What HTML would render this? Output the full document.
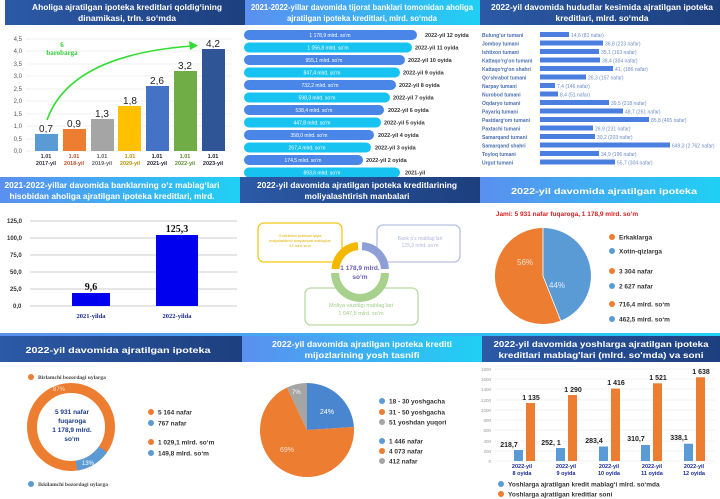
<!DOCTYPE html>
<html><head><meta charset="utf-8"><style>
body{margin:0;background:#fff;width:720px;height:499px;overflow:hidden}
svg{display:block}
text{font-family:"Liberation Sans",sans-serif}
.h{fill:#fff;font-weight:bold;font-size:8.6px;text-anchor:middle}
.s{font-family:"Liberation Serif",serif}
</style></head><body>
<svg width="720" height="499" viewBox="0 0 720 499" xmlns="http://www.w3.org/2000/svg">
<defs>
<linearGradient id="dk" x1="0" x2="1"><stop offset="0" stop-color="#2c5aa6"/><stop offset="1" stop-color="#1d3f7e"/></linearGradient>
<linearGradient id="lt" x1="0" x2="1"><stop offset="0" stop-color="#5b8ff0"/><stop offset="1" stop-color="#20d0f4"/></linearGradient>
</defs>
<!-- headers row1 -->
<rect x="5" y="0" width="240" height="25" fill="url(#dk)"/>
<rect x="245" y="0" width="235" height="25" fill="url(#lt)"/>
<rect x="480" y="0" width="240" height="25" fill="url(#dk)"/>
<text class="h" x="127" y="10" textLength="190" lengthAdjust="spacingAndGlyphs">Aholiga ajratilgan ipoteka kreditlari qoldig‘ining</text>
<text class="h" x="127" y="21" textLength="98" lengthAdjust="spacingAndGlyphs">dinamikasi, trln. so‘mda</text>
<text class="h" x="362" y="10" textLength="222" lengthAdjust="spacingAndGlyphs">2021-2022-yillar davomida tijorat banklari tomonidan aholiga</text>
<text class="h" x="362" y="21" textLength="150" lengthAdjust="spacingAndGlyphs">ajratilgan ipoteka kreditlari, mlrd. so‘mda</text>
<text class="h" x="602" y="10" textLength="222" lengthAdjust="spacingAndGlyphs">2022-yil davomida hududlar kesimida ajratilgan ipoteka</text>
<text class="h" x="602" y="21" textLength="93" lengthAdjust="spacingAndGlyphs">kreditlari, mlrd. so‘mda</text>

<!-- panel 1 -->
<g font-size="6" fill="#555" text-anchor="end">
<text x="22" y="41">4,5</text><text x="22" y="53">4,0</text><text x="22" y="66">3,5</text><text x="22" y="78">3,0</text><text x="22" y="91">2,5</text><text x="22" y="103">2,0</text><text x="22" y="116">1,5</text><text x="22" y="128">1,0</text><text x="22" y="141">0,5</text><text x="22" y="153">0,0</text>
</g>
<g stroke="#e3e3e3" stroke-width="0.6">
<line x1="26" x2="232" y1="39" y2="39"/><line x1="26" x2="232" y1="51" y2="51"/><line x1="26" x2="232" y1="64" y2="64"/><line x1="26" x2="232" y1="76" y2="76"/><line x1="26" x2="232" y1="89" y2="89"/><line x1="26" x2="232" y1="101" y2="101"/><line x1="26" x2="232" y1="114" y2="114"/><line x1="26" x2="232" y1="126" y2="126"/><line x1="26" x2="232" y1="139" y2="139"/><line x1="26" x2="232" y1="151" y2="151"/>
</g>
<rect x="35" y="134" width="23" height="17" fill="#5b9bd5"/>
<rect x="63" y="129" width="23" height="22" fill="#ed7d31"/>
<rect x="91" y="119" width="23" height="32" fill="#a5a5a5"/>
<rect x="118" y="106" width="23" height="45" fill="#ffc000"/>
<rect x="146" y="86" width="23" height="65" fill="#4472c4"/>
<rect x="174" y="71" width="23" height="80" fill="#70ad47"/>
<rect x="202" y="49" width="23" height="102" fill="#2f5597"/>
<g class="s" font-size="10" fill="#222" text-anchor="middle">
<text x="46" y="132">0,7</text><text x="74" y="127">0,9</text><text x="102" y="117">1,3</text><text x="130" y="104">1,8</text><text x="157" y="84">2,6</text><text x="185" y="69">3,2</text><text x="213" y="47">4,2</text>
</g>
<path d="M47 120 Q70 55 192 46" fill="none" stroke="#33dd33" stroke-width="1.6"/>
<polygon points="198,45.5 189,41 190,50" fill="#33dd33"/>
<text x="62" y="47" font-size="7" fill="#33cc33" font-weight="bold" text-anchor="middle" class="s">6</text>
<text x="62" y="55" font-size="7" fill="#33cc33" font-weight="bold" text-anchor="middle" class="s">barobarga</text>
<g class="s" font-size="5.5" font-weight="bold" text-anchor="middle">
<text x="46" y="158" fill="#334">1.01</text><text x="46" y="165" fill="#334">2017-yil</text>
<text x="74" y="158" fill="#c0502a">1.01</text><text x="74" y="165" fill="#c0502a">2018-yil</text>
<text x="102" y="158" fill="#666">1.01</text><text x="102" y="165" fill="#666">2019-yil</text>
<text x="130" y="158" fill="#b89000">1.01</text><text x="130" y="165" fill="#b89000">2020-yil</text>
<text x="157" y="158" fill="#223">1.01</text><text x="157" y="165" fill="#223">2021-yil</text>
<text x="185" y="158" fill="#5a8a30">1.01</text><text x="185" y="165" fill="#5a8a30">2022-yil</text>
<text x="213" y="158" fill="#223">1.01</text><text x="213" y="165" fill="#223">2023-yil</text>
</g>

<!-- panel 2 pills -->
<g font-size="5" fill="#fff" text-anchor="middle" class="s">
<rect x="244" y="30" width="173" height="10" rx="5" fill="#4a86e8"/><text x="330" y="37">1 178,9 mlrd. so‘m</text>
<rect x="244" y="42.5" width="168" height="10" rx="5" fill="#17c3f0"/><text x="328" y="49.5">1 056,8 mlrd. so‘m</text>
<rect x="244" y="55" width="161" height="10" rx="5" fill="#4a86e8"/><text x="324" y="62">955,1 mlrd. so‘m</text>
<rect x="244" y="67.5" width="156" height="10" rx="5" fill="#17c3f0"/><text x="322" y="74.5">847,4 mlrd. so‘m</text>
<rect x="244" y="80" width="152" height="10" rx="5" fill="#4a86e8"/><text x="320" y="87">732,2 mlrd. so‘m</text>
<rect x="244" y="92.5" width="146" height="10" rx="5" fill="#17c3f0"/><text x="317" y="99.5">598,3 mlrd. so‘m</text>
<rect x="244" y="105" width="140" height="10" rx="5" fill="#4a86e8"/><text x="314" y="112">538,4 mlrd. so‘m</text>
<rect x="244" y="117.5" width="137" height="10" rx="5" fill="#17c3f0"/><text x="312" y="124.5">447,8 mlrd. so‘m</text>
<rect x="244" y="130" width="130" height="10" rx="5" fill="#4a86e8"/><text x="309" y="137">358,0 mlrd. so‘m</text>
<rect x="244" y="142.5" width="127" height="10" rx="5" fill="#17c3f0"/><text x="307" y="149.5">267,4 mlrd. so‘m</text>
<rect x="244" y="155" width="119" height="10" rx="5" fill="#4a86e8"/><text x="303" y="162">174,5 mlrd. so‘m</text>
<rect x="244" y="167.5" width="156" height="10" rx="5" fill="#17c3f0"/><text x="322" y="174.5">893,6 mlrd. so‘m</text>
</g>
<g font-size="5.5" fill="#333" font-weight="bold">
<text x="425" y="37">2022-yil 12 oyida</text><text x="415" y="49.5">2022-yil 11 oyida</text><text x="408" y="62">2022-yil 10 oyida</text><text x="403" y="74.5">2022-yil 9 oyida</text><text x="399" y="87">2022-yil 8 oyida</text><text x="393" y="99.5">2022-yil 7 oyida</text><text x="388" y="112">2022-yil 6 oyida</text><text x="384" y="124.5">2022-yil 5 oyida</text><text x="378" y="137">2022-yil 4 oyida</text><text x="375" y="149.5">2022-yil 3 oyida</text><text x="366" y="162">2022-yil 2 oyida</text><text x="405" y="174.5">2021-yil</text>
</g>

<!-- panel 3 regions -->
<g class="s" font-size="5" font-weight="bold" fill="#4a6fb0">
<text x="482" y="37">Bulung‘ur tumani</text><text x="482" y="45.5">Jomboy tumani</text><text x="482" y="54">Ishtixon tumani</text><text x="482" y="62.5">Kattaqo‘rg‘on tumani</text><text x="482" y="71">Kattaqo‘rg‘on shahri</text><text x="482" y="79.5">Qo‘shrabot tumani</text><text x="482" y="88">Narpay tumani</text><text x="482" y="96.5">Nurobod tumani</text><text x="482" y="105">Oqdaryo tumani</text><text x="482" y="113.5">Payariq tumani</text><text x="482" y="122">Pastdarg‘om tumani</text><text x="482" y="130.5">Paxtachi tumani</text><text x="482" y="139">Samarqand tumani</text><text x="482" y="147.5">Samarqand shahri</text><text x="482" y="156">Toyloq tumani</text><text x="482" y="164.5">Urgut tumani</text>
</g>
<g fill="#4a7fe0">
<rect x="540" y="32" width="29" height="5"/><rect x="540" y="40.5" width="63" height="5"/><rect x="540" y="49" width="59" height="5"/><rect x="540" y="57.5" width="60" height="5"/><rect x="540" y="66" width="73" height="5"/><rect x="540" y="74.5" width="46" height="5"/><rect x="540" y="83" width="15" height="5"/><rect x="540" y="91.5" width="18" height="5"/><rect x="540" y="100" width="69" height="5"/><rect x="540" y="108.5" width="83" height="5"/><rect x="540" y="117" width="109" height="5"/><rect x="540" y="125.5" width="53" height="5"/><rect x="540" y="134" width="55" height="5"/><rect x="540" y="142.5" width="130" height="5"/><rect x="540" y="151" width="59" height="5"/><rect x="540" y="159.5" width="75" height="5"/>
</g>
<g class="s" font-size="5" fill="#6a8ac8">
<text x="571" y="37">14,6 (81 nafar)</text><text x="605" y="45.5">36,8 (223 nafar)</text><text x="601" y="54">35,1 (163 nafar)</text><text x="602" y="62.5">38,4 (304 nafar)</text><text x="615" y="71">41, (186 nafar)</text><text x="588" y="79.5">26,3 (157 nafar)</text><text x="557" y="88">7,4 (146 nafar)</text><text x="560" y="96.5">8,4 (51 nafar)</text><text x="611" y="105">39,5 (218 nafar)</text><text x="625" y="113.5">48,7 (261 nafar)</text><text x="651" y="122">85,8 (465 nafar)</text><text x="595" y="130.5">26,9 (231 nafar)</text><text x="597" y="139">30,2 (203 nafar)</text><text x="672" y="147.5">649,3 (2 762 nafar)</text><text x="601" y="156">34,9 (196 nafar)</text><text x="617" y="164.5">55,7 (304 nafar)</text>
</g>

<!-- headers row2 -->
<rect x="0" y="177" width="240" height="26" fill="url(#lt)"/>
<rect x="240" y="177" width="240" height="26" fill="url(#dk)"/>
<rect x="480" y="177" width="240" height="26" fill="url(#lt)"/>
<text class="h" x="112" y="188" textLength="215" lengthAdjust="spacingAndGlyphs">2021-2022-yillar davomida banklarning o‘z mablag‘lari</text>
<text class="h" x="112" y="199" textLength="205" lengthAdjust="spacingAndGlyphs">hisobidan aholiga ajratilgan ipoteka kreditlari, mlrd.</text>
<text class="h" x="357" y="188" textLength="200" lengthAdjust="spacingAndGlyphs">2022-yil davomida ajratilgan ipoteka kreditlarining</text>
<text class="h" x="357" y="199" textLength="105" lengthAdjust="spacingAndGlyphs">moliyalashtirish manbalari</text>
<text class="h" x="604" y="194" font-size="10.5" textLength="186" lengthAdjust="spacingAndGlyphs">2022-yil davomida ajratilgan ipoteka</text>

<!-- row2 panel1 -->
<g stroke="#bbb" stroke-width="0.7">
<line x1="30" x2="237" y1="221" y2="221"/><line x1="30" x2="237" y1="238" y2="238"/><line x1="30" x2="237" y1="255" y2="255"/><line x1="30" x2="237" y1="272" y2="272"/><line x1="30" x2="237" y1="289" y2="289"/><line x1="30" x2="237" y1="306" y2="306"/>
</g>
<g class="s" font-size="6" font-weight="bold" fill="#333">
<text x="7" y="223">125,0</text><text x="7" y="240">100,0</text><text x="10" y="257">75,0</text><text x="10" y="274">50,0</text><text x="10" y="291">25,0</text><text x="13" y="308">0,0</text>
</g>
<rect x="72" y="293" width="38" height="13" fill="#0000ee"/>
<rect x="156" y="235" width="42" height="71" fill="#0000ee"/>
<text class="s" x="91" y="290" font-size="10" font-weight="bold" text-anchor="middle" fill="#111">9,6</text>
<text class="s" x="177" y="232" font-size="10" font-weight="bold" text-anchor="middle" fill="#111">125,3</text>
<text class="s" x="91" y="318" font-size="6.5" font-weight="bold" text-anchor="middle" fill="#1a2a8a">2021-yilda</text>
<text class="s" x="177" y="318" font-size="6.5" font-weight="bold" text-anchor="middle" fill="#1a2a8a">2022-yilda</text>

<!-- row2 panel2 -->
<rect x="258" y="223" width="84" height="39" rx="6" fill="#fff" stroke="#f5c518" stroke-width="1.3"/>
<rect x="377" y="225" width="83" height="37" rx="6" fill="#fff" stroke="#b6c0e4" stroke-width="1.3"/>
<rect x="305" y="288" width="113" height="37" rx="6" fill="#fff" stroke="#b6dca0" stroke-width="1.3"/>
<circle cx="360" cy="271" r="28" fill="#fff"/>
<g fill="none" stroke-width="8">
<path d="M335.6 269 A24 24 0 0 1 358 246.1" stroke="#f5b800"/>
<path d="M362 246.1 A24 24 0 0 1 384.9 269" stroke="#8e9fd8"/>
<path d="M384.9 273 A24 24 0 0 1 335.1 273" stroke="#a9d18e"/>
</g>
<text x="360" y="270" font-size="6.5" font-weight="bold" fill="#6a5bb0" text-anchor="middle">1 178,9 mlrd.</text>
<text x="360" y="279" font-size="6.5" font-weight="bold" fill="#6a5bb0" text-anchor="middle">so‘m</text>
<g font-size="3.5" fill="#e0b000" text-anchor="middle"><text x="300" y="237">O‘zbekiston ipotekani qayta</text><text x="300" y="242">moliyalashtirish kompaniyasi mablag‘lari</text><text x="300" y="247">4,1 mlrd. so‘m</text></g>
<text x="420" y="240" font-size="5" fill="#b0b8d8" text-anchor="middle">Bank o‘z mablag‘lari</text>
<text x="420" y="247" font-size="5" fill="#b0b8d8" text-anchor="middle">125,3 mlrd. so‘m</text>
<text x="361" y="307" font-size="5.5" fill="#a0cc88" text-anchor="middle">Moliya vazirligi mablag‘lari</text>
<text x="361" y="315" font-size="5.5" fill="#a0cc88" text-anchor="middle">1 047,5 mlrd. so‘m</text>

<!-- row2 panel3 -->
<text x="567" y="216" font-size="6.5" font-weight="bold" fill="#d42020" text-anchor="middle">Jami: 5 931 nafar fuqaroga, 1 178,9 mlrd. so‘m</text>
<path d="M543 276 L543 228 A48 48 0 0 1 560.7 320.6 Z" fill="#5b9bd5"/>
<path d="M543 276 L560.7 320.6 A48 48 0 1 1 543 228 Z" fill="#ed7d31"/>
<line x1="543" y1="276" x2="543" y2="228" stroke="#fff" stroke-width="0.8"/>
<line x1="543" y1="276" x2="560.7" y2="320.6" stroke="#fff" stroke-width="0.8"/>
<text x="517" y="265" font-size="8" fill="#fde0c8">56%</text>
<text x="549" y="288" font-size="8" fill="#e0eefa">44%</text>
<g font-size="6.5" font-weight="bold" fill="#333">
<circle cx="612" cy="237" r="3" fill="#ed7d31"/><text x="619" y="239.5">Erkaklarga</text>
<circle cx="612" cy="251" r="3" fill="#5b9bd5"/><text x="619" y="253.5">Xotin-qizlarga</text>
<circle cx="612" cy="271" r="3" fill="#ed7d31"/><text x="619" y="273.5">3 304 nafar</text>
<circle cx="612" cy="286" r="3" fill="#5b9bd5"/><text x="619" y="288.5">2 627 nafar</text>
<circle cx="612" cy="304" r="3" fill="#ed7d31"/><text x="619" y="306.5">716,4 mlrd. so‘m</text>
<circle cx="612" cy="319" r="3" fill="#5b9bd5"/><text x="619" y="321.5">462,5 mlrd. so‘m</text>
</g>

<!-- headers row3 -->
<rect x="0" y="333" width="720" height="3" fill="url(#lt)"/>
<rect x="0" y="336" width="242" height="26" fill="url(#dk)"/>
<rect x="242" y="336" width="240" height="26" fill="url(#lt)"/>
<rect x="482" y="336" width="238" height="26" fill="url(#dk)"/>
<text class="h" x="118" y="353" font-size="10" textLength="185" lengthAdjust="spacingAndGlyphs">2022-yil davomida ajratilgan ipoteka</text>
<text class="h" x="362" y="347" textLength="180" lengthAdjust="spacingAndGlyphs">2022-yil davomida ajratilgan ipoteka krediti</text>
<text class="h" x="362" y="358" textLength="115" lengthAdjust="spacingAndGlyphs">mijozlarining yosh tasnifi</text>
<text class="h" x="601" y="347" textLength="215" lengthAdjust="spacingAndGlyphs">2022-yil davomida yoshlarga ajratilgan ipoteka</text>
<text class="h" x="601" y="358" textLength="205" lengthAdjust="spacingAndGlyphs">kreditlari mablag'lari (mlrd. so'mda) va soni</text>

<!-- row3 panel1 -->
<circle cx="31" cy="377" r="3" fill="#ed7d31"/>
<text class="s" x="38" y="379" font-size="5.5" font-weight="bold" fill="#444">Birlamchi bozordagi uylarga</text>
<circle cx="71" cy="427" r="39" fill="none" stroke="#ed7d31" stroke-width="10"/>
<circle cx="71" cy="427" r="39" fill="none" stroke="#5b9bd5" stroke-width="10" stroke-dasharray="31.9 300" transform="rotate(35 71 427)"/>
<text x="53" y="391" font-size="6" fill="#fde0c8">87%</text>
<text x="82" y="465" font-size="6" fill="#fff">13%</text>
<g font-size="6.5" font-weight="bold" fill="#1a3a8a" text-anchor="middle">
<text x="72" y="414">5 931 nafar</text><text x="72" y="423">fuqaroga</text><text x="72" y="432">1 178,9 mlrd.</text><text x="72" y="441">so‘m</text>
</g>
<circle cx="31" cy="484" r="3" fill="#5b9bd5"/>
<text class="s" x="38" y="486" font-size="5.5" font-weight="bold" fill="#444">Ikkilamchi bozordagi uylarga</text>
<g font-size="6.5" font-weight="bold" fill="#333">
<circle cx="151" cy="412" r="3" fill="#ed7d31"/><text x="158" y="414.5">5 164 nafar</text>
<circle cx="151" cy="423" r="3" fill="#5b9bd5"/><text x="158" y="425.5">767 nafar</text>
<circle cx="151" cy="442" r="3" fill="#ed7d31"/><text x="158" y="444.5">1 029,1 mlrd. so‘m</text>
<circle cx="151" cy="453" r="3" fill="#5b9bd5"/><text x="158" y="455.5">149,8 mlrd. so‘m</text>
</g>

<!-- row3 panel2 -->
<path d="M307 430 L307 383 A47 47 0 0 1 353.9 427 Z" fill="#4a86d0"/>
<path d="M307 430 L353.9 427 A47 47 0 1 1 287 387.5 Z" fill="#ed7d31"/>
<path d="M307 430 L287 387.5 A47 47 0 0 1 307 383 Z" fill="#a5a5a5"/>
<text x="320" y="414" font-size="7" fill="#fff">24%</text>
<text x="280" y="452" font-size="7" fill="#fde0c8">69%</text>
<text x="292" y="394" font-size="6" fill="#fff">7%</text>
<g font-size="6.5" font-weight="bold" fill="#333">
<circle cx="382" cy="401" r="3" fill="#5b9bd5"/><text x="389" y="403.5">18 - 30 yoshgacha</text>
<circle cx="382" cy="412" r="3" fill="#ed7d31"/><text x="389" y="414.5">31 - 50 yoshgacha</text>
<circle cx="382" cy="422" r="3" fill="#a5a5a5"/><text x="389" y="424.5">51 yoshdan yuqori</text>
<circle cx="382" cy="441" r="3" fill="#5b9bd5"/><text x="389" y="443.5">1 446 nafar</text>
<circle cx="382" cy="451" r="3" fill="#ed7d31"/><text x="389" y="453.5">4 073 nafar</text>
<circle cx="382" cy="461" r="3" fill="#a5a5a5"/><text x="389" y="463.5">412 nafar</text>
</g>

<!-- row3 panel3 -->
<g stroke="#e6e6e6" stroke-width="0.5">
<line x1="495" x2="715" y1="369" y2="369"/><line x1="495" x2="715" y1="379" y2="379"/><line x1="495" x2="715" y1="389" y2="389"/><line x1="495" x2="715" y1="400" y2="400"/><line x1="495" x2="715" y1="410" y2="410"/><line x1="495" x2="715" y1="420" y2="420"/><line x1="495" x2="715" y1="430" y2="430"/><line x1="495" x2="715" y1="441" y2="441"/><line x1="495" x2="715" y1="451" y2="451"/><line x1="495" x2="715" y1="461" y2="461"/>
</g>
<g font-size="4.5" fill="#999" text-anchor="end">
<text x="491" y="371">1800</text><text x="491" y="381">1600</text><text x="491" y="391">1400</text><text x="491" y="402">1200</text><text x="491" y="412">1000</text><text x="491" y="422">800</text><text x="491" y="432">600</text><text x="491" y="443">400</text><text x="491" y="453">200</text><text x="491" y="463">0</text>
</g>
<g fill="#5b9bd5">
<rect x="514" y="450" width="9" height="11"/><rect x="556" y="448" width="9" height="13"/><rect x="599" y="446.5" width="9" height="14.5"/><rect x="641" y="445" width="9" height="16"/><rect x="684" y="443.7" width="9" height="17.3"/>
</g>
<g fill="#ed7d31">
<rect x="526" y="403" width="9" height="58"/><rect x="568" y="395" width="9" height="66"/><rect x="611" y="388.6" width="9" height="72.4"/><rect x="653" y="383.3" width="9" height="77.7"/><rect x="696" y="377.3" width="9" height="83.7"/>
</g>
<g class="s" font-size="7" font-weight="bold" fill="#222" text-anchor="middle">
<text x="531" y="400">1 135</text><text x="573" y="392">1 290</text><text x="616" y="385">1 416</text><text x="658" y="380">1 521</text><text x="701" y="374">1 638</text>
<text x="509" y="447">218,7</text><text x="551" y="445">252, 1</text><text x="594" y="443">283,4</text><text x="636" y="441">310,7</text><text x="679" y="440">338,1</text>
</g>
<g class="s" font-size="5.5" font-weight="bold" fill="#1a2a9a" text-anchor="middle">
<text x="522" y="468">2022-yil</text><text x="522" y="475">8 oyida</text>
<text x="566" y="468">2022-yil</text><text x="566" y="475">9 oyida</text>
<text x="609" y="468">2022-yil</text><text x="609" y="475">10 oyida</text>
<text x="652" y="468">2022-yil</text><text x="652" y="475">11 oyida</text>
<text x="694" y="468">2022-yil</text><text x="694" y="475">12 oyida</text>
</g>
<g font-size="6.5" font-weight="bold" fill="#333">
<circle cx="501" cy="484" r="3" fill="#5b9bd5"/><text x="508" y="486.5">Yoshlarga ajratilgan kredit mablag‘i mlrd. so‘mda</text>
<circle cx="501" cy="494" r="3" fill="#ed7d31"/><text x="508" y="496.5">Yoshlarga ajratilgan kreditlar soni</text>
</g>
</svg>
</body></html>
